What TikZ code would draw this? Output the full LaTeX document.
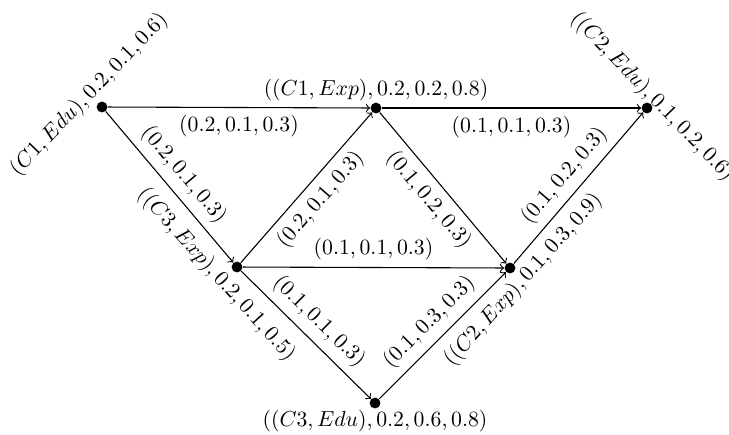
\documentclass[tikz,border=0pt]{standalone}
\begin{document}
\begin{tikzpicture}[x=0.46pt,y=-0.46pt,
  dot/.style={circle,fill,inner sep=0pt,minimum size=5pt},
  arr/.style={->,line width=0.5pt},
  nl/.style={inner sep=3pt}]
\useasboundingbox (0,0) rectangle (729,434);
\node[dot] (a) at (102,107) {};
\node[dot] (b) at (376,108) {};
\node[dot] (c) at (647,108) {};
\node[dot] (d) at (237,267) {};
\node[dot] (e) at (510,268) {};
\node[dot] (f) at (375,403) {};
% node labels
\node[nl,rotate=46,anchor=south] (la) at (a) {$(C1, Edu), 0.2, 0.1, 0.6)$};
\node[nl,anchor=south] (lb) at (b) {$((C1, Exp), 0.2, 0.2, 0.8)$};
\node[inner sep=1.5pt,rotate=-46,anchor=south] (lc) at ([xshift=-2.5pt,yshift=0.5pt]c.center) {$((C2, Edu), 0.1, 0.2, 0.6)$};
\node[nl,rotate=-48,anchor=north] (ld) at ([xshift=-3.5pt,yshift=2pt]d.center) {$((C3, Exp), 0.2, 0.1, 0.5)$};
\node[nl,rotate=48,anchor=north] (le) at (e) {$((C2, Exp), 0.1, 0.3, 0.9)$};
\node[nl,anchor=north] (lf) at (f) {$((C3, Edu), 0.2, 0.6, 0.8)$};
% edges
\draw[arr] (a) -- node[below] {$(0.2, 0.1, 0.3)$} (b);
\draw[arr] (b) -- node[below] {$(0.1, 0.1, 0.3)$} (c);
\draw[arr] (a) -- node[above,sloped] {$(0.2, 0.1, 0.3)$} (d);
\draw[arr] (d) -- node[below,sloped] {$(0.2, 0.1, 0.3)$} (b);
\draw[arr] (b) -- node[below,sloped] {$(0.1, 0.2, 0.3)$} (e);
\draw[arr] (d) -- node[above] {$(0.1, 0.1, 0.3)$} (e);
\draw[arr] (d) -- node[above,sloped] {$(0.1, 0.1, 0.3)$} (f);
\draw[arr] (f) -- node[above,sloped] {$(0.1, 0.3, 0.3)$} (e);
\draw[arr] (e) -- node[above,sloped] {$(0.1, 0.2, 0.3)$} (c);
\end{tikzpicture}
\end{document}
